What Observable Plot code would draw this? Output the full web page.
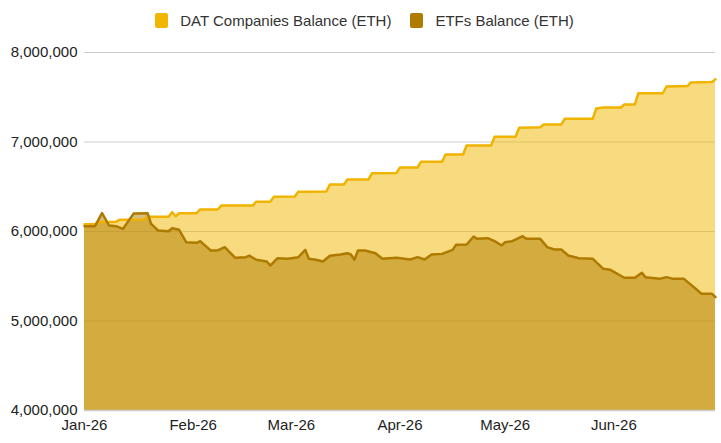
<!DOCTYPE html>
<html>
<head>
<meta charset="utf-8">
<script src="https://cdn.jsdelivr.net/npm/d3@7"></script>
<script src="https://cdn.jsdelivr.net/npm/@observablehq/plot@0.6"></script>
<style>
  body { margin: 0; background: #fff; font-family: "Liberation Sans", Arial, sans-serif; }
  #legend { height: 40px; display: flex; justify-content: center; align-items: center; gap: 19px; font-size: 15px; color: #333; padding-left: 8px; }
  .item { display: flex; align-items: center; }
  .sw { display: inline-block; width: 13px; height: 15px; border-radius: 2px; margin-right: 12px; }
</style>
</head>
<body>
<div id="legend"></div>
<div id="chart"></div>
<script>
const seriesNames = ["DAT Companies Balance (ETH)", "ETFs Balance (ETH)"];
const seriesColors = ["#F1B700", "#B07C00"];

const datDates = ["2026-01-01","2026-01-04","2026-01-05","2026-01-10","2026-01-11","2026-01-18","2026-01-19","2026-01-25","2026-01-26","2026-01-27","2026-01-28","2026-02-02","2026-02-03","2026-02-08","2026-02-09","2026-02-18","2026-02-19","2026-02-23","2026-02-24","2026-03-02","2026-03-03","2026-03-11","2026-03-12","2026-03-16","2026-03-17","2026-03-23","2026-03-24","2026-03-31","2026-04-01","2026-04-06","2026-04-07","2026-04-13","2026-04-14","2026-04-19","2026-04-20","2026-04-27","2026-04-28","2026-05-04","2026-05-05","2026-05-11","2026-05-12","2026-05-17","2026-05-18","2026-05-26","2026-05-27","2026-05-29","2026-06-03","2026-06-04","2026-06-07","2026-06-08","2026-06-15","2026-06-16","2026-06-22","2026-06-23","2026-06-29","2026-06-30"];
const datValues = [6080000,6080000,6105000,6110000,6130000,6135000,6165000,6165000,6216000,6170000,6205000,6205000,6246000,6246000,6290000,6290000,6333000,6333000,6387000,6390000,6445000,6447000,6525000,6525000,6580000,6580000,6650000,6655000,6715000,6715000,6780000,6780000,6860000,6860000,6960000,6960000,7060000,7060000,7160000,7165000,7195000,7195000,7260000,7260000,7375000,7385000,7385000,7420000,7420000,7545000,7545000,7620000,7625000,7665000,7670000,7700000];

const etfDates = ["2026-01-01","2026-01-04","2026-01-06","2026-01-08","2026-01-10","2026-01-12","2026-01-15","2026-01-19","2026-01-20","2026-01-22","2026-01-25","2026-01-26","2026-01-28","2026-01-30","2026-02-02","2026-02-03","2026-02-06","2026-02-08","2026-02-10","2026-02-13","2026-02-16","2026-02-17","2026-02-19","2026-02-22","2026-02-23","2026-02-25","2026-02-28","2026-03-03","2026-03-05","2026-03-06","2026-03-08","2026-03-10","2026-03-12","2026-03-15","2026-03-17","2026-03-18","2026-03-19","2026-03-20","2026-03-22","2026-03-25","2026-03-27","2026-03-31","2026-04-04","2026-04-06","2026-04-08","2026-04-10","2026-04-13","2026-04-16","2026-04-17","2026-04-20","2026-04-22","2026-04-23","2026-04-26","2026-04-28","2026-04-30","2026-05-01","2026-05-03","2026-05-06","2026-05-07","2026-05-11","2026-05-13","2026-05-15","2026-05-17","2026-05-19","2026-05-22","2026-05-26","2026-05-29","2026-05-31","2026-06-04","2026-06-07","2026-06-09","2026-06-10","2026-06-14","2026-06-16","2026-06-18","2026-06-21","2026-06-24","2026-06-26","2026-06-29","2026-06-30"];
const etfValues = [6060000,6060000,6205000,6067000,6060000,6030000,6200000,6205000,6086000,6011000,6003000,6037000,6019000,5881000,5874000,5892000,5788000,5788000,5825000,5706000,5713000,5730000,5684000,5665000,5620000,5700000,5695000,5713000,5795000,5695000,5684000,5665000,5730000,5743000,5757000,5743000,5684000,5788000,5788000,5757000,5695000,5706000,5687000,5713000,5687000,5743000,5750000,5795000,5851000,5855000,5944000,5918000,5925000,5892000,5844000,5881000,5892000,5947000,5918000,5918000,5825000,5799000,5799000,5732000,5702000,5695000,5583000,5572000,5483000,5483000,5539000,5490000,5471000,5490000,5471000,5471000,5371000,5304000,5304000,5266000];

const yTicks = [4000000, 5000000, 6000000, 7000000, 8000000];
const monthTicks = ["2026-01-01","2026-02-01","2026-03-01","2026-04-01","2026-05-01","2026-06-01"];
const monthLabels = ["Jan-26","Feb-26","Mar-26","Apr-26","May-26","Jun-26"];
const xDomain = ["2026-01-01","2026-06-30"];

const parse = d3.utcParse("%Y-%m-%d");
const base = yTicks[0];
const dat = datDates.map((d, i) => ({date: parse(d), value: datValues[i]}));
const etf = etfDates.map((d, i) => ({date: parse(d), value: etfValues[i]}));
const tickDates = monthTicks.map(parse);
const labelOf = new Map(tickDates.map((d, i) => [+d, monthLabels[i]]));

// legend
const legend = document.getElementById("legend");
seriesNames.forEach((name, i) => {
  const it = document.createElement("div");
  it.className = "item";
  const sw = document.createElement("span");
  sw.className = "sw";
  sw.style.background = seriesColors[i];
  const tx = document.createElement("span");
  tx.textContent = name;
  it.appendChild(sw); it.appendChild(tx);
  legend.appendChild(it);
});

const chart = Plot.plot({
  width: 721,
  height: 403,
  marginTop: 12,
  marginBottom: 33,
  marginLeft: 84,
  marginRight: 6,
  style: {fontFamily: "'Liberation Sans', Arial, sans-serif", fontSize: "15px", color: "#222", background: "white"},
  x: {type: "utc", domain: xDomain.map(parse), label: null},
  y: {domain: [yTicks[0], yTicks[yTicks.length - 1]], label: null},
  marks: [
    Plot.ruleY(yTicks.slice(1), {stroke: "#cccccc", strokeWidth: 1}),
    Plot.areaY(dat, {x: "date", y1: () => base, y2: "value", fill: seriesColors[0], fillOpacity: 0.5}),
    Plot.areaY(etf, {x: "date", y1: () => base, y2: "value", fill: seriesColors[1], fillOpacity: 0.5}),
    Plot.lineY(dat, {x: "date", y: "value", stroke: "#EFB300", strokeWidth: 2.5}),
    Plot.lineY(etf, {x: "date", y: "value", stroke: "#AE7A00", strokeWidth: 2.5}),
    Plot.ruleY([base], {stroke: "#cccccc", strokeWidth: 1.5}),
    Plot.axisY(yTicks, {tickSize: 0, tickPadding: 7, tickFormat: d3.format(","), fontSize: 15, fill: "#222", label: null}),
    Plot.axisX(tickDates, {tickSize: 0, tickPadding: 9, tickFormat: d => labelOf.get(+d), fontSize: 15, fill: "#222", label: null})
  ]
});
document.getElementById("chart").appendChild(chart);
</script>
</body>
</html>
